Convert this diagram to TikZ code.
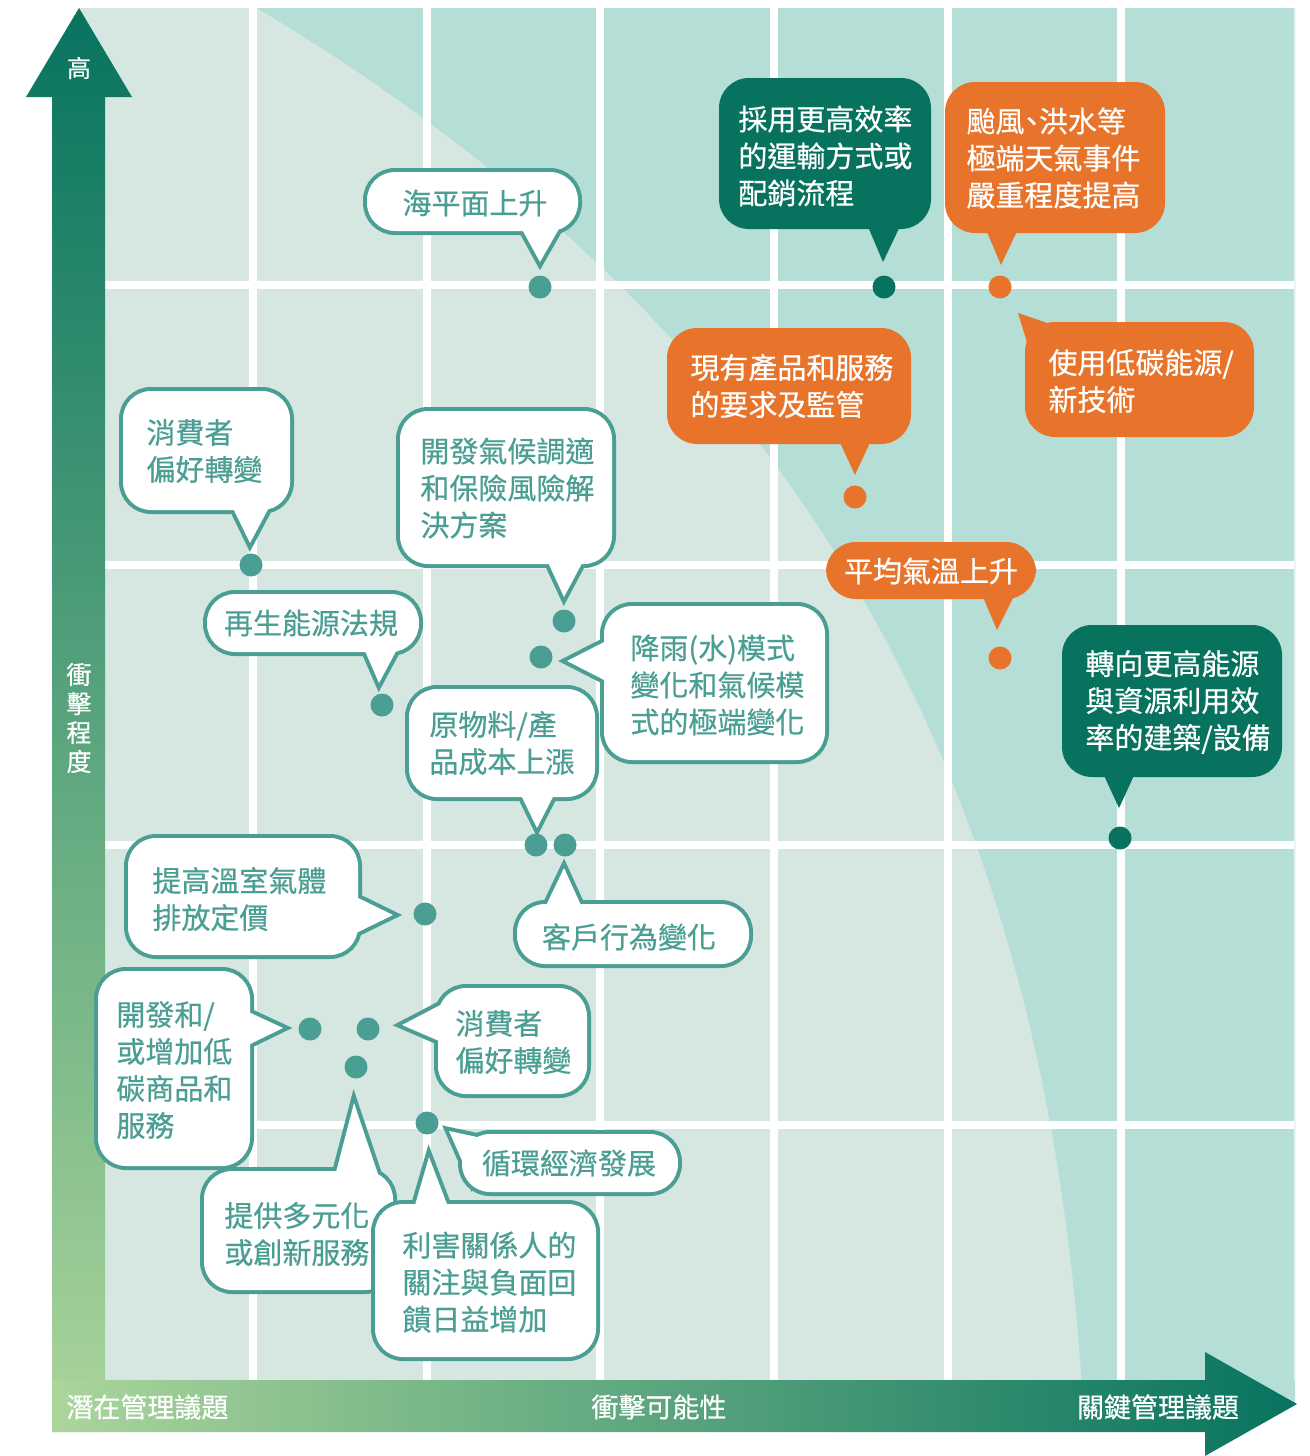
\documentclass[tikz,border=0pt]{standalone}
\usepackage{fontspec}
\newfontfamily\cjk[FakeBold=0.5]{Noto Sans CJK TC}
\usepackage{tikz}
\usetikzlibrary{positioning}
\definecolor{dkgreen}{HTML}{07735F}
\definecolor{ltgreen}{HTML}{ABD59B}
\definecolor{tealc}{HTML}{4A9E93}
\definecolor{orangec}{HTML}{E8742B}
\definecolor{gridbg}{HTML}{D6E7E1}
\definecolor{gridhi}{HTML}{B4DED6}
\tikzset{
  wbub/.style={fill=white, rounded corners=14pt, preaction={draw=tealc, line width=4pt}},
  gbub/.style={fill=dkgreen, rounded corners=15pt},
  obub/.style={fill=orangec, rounded corners=15pt},
  wtxt/.style={text=tealc, font=\cjk\fontsize{14.5pt}{18.5pt}\selectfont, align=left, inner sep=0pt},
  ctxt/.style={text=white, font=\cjk\fontsize{14.5pt}{18.5pt}\selectfont, align=left, inner sep=0pt},
  axtxt/.style={text=white, font=\cjk\fontsize{13.5pt}{14.5pt}\selectfont, inner sep=0pt},
  tdot/.style={circle, fill=tealc, inner sep=0pt, minimum size=11.5pt},
  gdot/.style={tdot, fill=dkgreen},
  odot/.style={tdot, fill=orangec}
}
\begin{document}
\begin{tikzpicture}[x=0.5pt, y=-0.5pt]
    \useasboundingbox (0,0) rectangle (1310,1456);
    \fill[gridbg] (79,8) rectangle (1295,1405);
    \fill[gridhi] (257,8) .. controls (757,308) and (1045,730) .. (1083,1405) -- (1295,1405) -- (1295,8) -- cycle;
    \draw[white, line width=4pt] (253,8) -- (253,1380);
    \draw[white, line width=4pt] (427,8) -- (427,1380);
    \draw[white, line width=4pt] (600,8) -- (600,1380);
    \draw[white, line width=4pt] (774,8) -- (774,1380);
    \draw[white, line width=4pt] (948,8) -- (948,1380);
    \draw[white, line width=4pt] (1121,8) -- (1121,1380);
    \draw[white, line width=4pt] (105,285) -- (1295,285);
    \draw[white, line width=4pt] (105,565) -- (1295,565);
    \draw[white, line width=4pt] (105,845) -- (1295,845);
    \draw[white, line width=4pt] (105,1125) -- (1295,1125);
    \draw[white!70!gridhi, line width=1pt] (1295,8) -- (1295,1380);

    \shade[top color=dkgreen, bottom color=ltgreen] (52,1432) -- (52,97) -- (26,97) -- (79,8) -- (132,97) -- (105,97) -- (105,1432) -- cycle;
    \shade[left color=ltgreen, right color=dkgreen] (52,1380) -- (1205,1380) -- (1205,1352) -- (1297,1404) -- (1205,1456) -- (1205,1432) -- (52,1432) -- cycle;
    \node[axtxt, font=\cjk\fontsize{12pt}{13pt}\selectfont] (high) at (79,68) {高};
    \node[axtxt, align=center, font=\cjk\fontsize{12.5pt}{14.5pt}\selectfont] (impact) at (79,718) {衝\\擊\\程\\度};
    \node[axtxt, anchor=west] (potential) at (66,1407) {潛在管理議題};
    \node[axtxt] (likely) at (659,1407) {衝擊可能性};
    \node[axtxt] (key) at (1158,1407) {關鍵管理議題};

    \path[wbub] (367,172) -- (578,172) -- (578,231) -- (367,231) -- cycle [sharp corners] (564,220) -- (540,262) -- (518,222) -- cycle;
    \node[wtxt] (sea) at (475,203) {海平面上升};

    \path[wbub] (123,391) -- (290,391) -- (290,510) -- (123,510) -- cycle [sharp corners] (273,500) -- (250,543) -- (230,502) -- cycle;
    \node[wtxt, anchor=west] (pref1) at (146,451) {消費者\\偏好轉變};

    \path[wbub] (400,411) -- (612,411) -- (612,564) -- (400,564) -- cycle [sharp corners] (588,552) -- (564,597) -- (545,556) -- cycle;
    \node[wtxt, anchor=west] (adapt) at (420,488) {開發氣候調適\\和保險風險解\\決方案};

    \path[wbub] (207,594) -- (419,594) -- (419,652) -- (207,652) -- cycle [sharp corners] (401,642) -- (379,683) -- (362,644) -- cycle;
    \node[wtxt] (renew) at (311,623) {再生能源法規};

    \path[wbub] (604,606) -- (825,606) -- (825,760) -- (604,760) -- cycle [sharp corners] (612,684) -- (567,661) -- (612,638) -- cycle;
    \node[wtxt, anchor=west] (rain) at (630,685) {降雨(水)模式\\變化和氣候模\\式的極端變化};

    \path[wbub] (409,689) -- (595,689) -- (595,797) -- (409,797) -- cycle [sharp corners] (557,789) -- (537,828) -- (518,789) -- cycle;
    \node[wtxt, anchor=west] (cost) at (429,743) {原物料/產\\品成本上漲};

    \path[wbub] (517,904) -- (749,904) -- (749,964) -- (517,964) -- cycle [sharp corners] (543,912) -- (564,868) -- (584,912) -- cycle;
    \node[wtxt] (behav) at (629,937) {客戶行為變化};

    \path[wbub] (128,838) -- (358,838) -- (358,955) -- (128,955) -- cycle [sharp corners] (350,894) -- (393,915) -- (350,936) -- cycle;
    \node[wtxt, anchor=west] (carbon) at (152,899) {提高溫室氣體\\排放定價};

    \path[wbub] (98,971) -- (250,971) -- (250,1166) -- (98,1166) -- cycle [sharp corners] (242,1009) -- (283,1028) -- (242,1048) -- cycle;
    \node[wtxt, anchor=west] (lowc) at (116,1070) {開發和/\\或增加低\\碳商品和\\服務};

    \path[wbub] (438,988) -- (587,988) -- (587,1094) -- (438,1094) -- cycle [sharp corners] (446,1044) -- (402,1025) -- (446,1002) -- cycle;
    \node[wtxt, anchor=west] (pref2) at (455,1042) {消費者\\偏好轉變};

    \path[wbub] (462,1134) -- (678,1134) -- (678,1192) -- (462,1192) -- cycle [sharp corners] (472,1183) -- (449,1131) -- (496,1141) -- cycle;
    \node[wtxt] (circ) at (569,1163) {循環經濟發展};

    \path[wbub] (204,1171) -- (393,1171) -- (393,1290) -- (204,1290) -- cycle [sharp corners] (334,1180) -- (354,1103) -- (380,1180) -- cycle;
    \node[wtxt, anchor=west] (serv) at (224,1234) {提供多元化\\或創新服務};

    \path[wbub] (375,1204) -- (596,1204) -- (596,1357) -- (375,1357) -- cycle [sharp corners] (413,1212) -- (429,1157) -- (450,1212) -- cycle;
    \node[wtxt, anchor=west] (stake) at (402,1282) {利害關係人的\\關注與負面回\\饋日益增加};

    \path[gbub] (719,78) -- (931,78) -- (931,229) -- (719,229) -- cycle [sharp corners] (903,220) -- (883,262) -- (866,222) -- cycle;
    \node[ctxt, anchor=west] (trans) at (738,156) {採用更高效率\\的運輸方式或\\配銷流程};

    \path[obub] (945,82) -- (1165,82) -- (1165,233) -- (945,233) -- cycle [sharp corners] (1020,225) -- (1001,265) -- (984,225) -- cycle;
    \node[ctxt, anchor=west] (storm) at (966,158) {颱風\hspace{-0.25em}、\hspace{-0.25em}洪水等\\極端天氣事件\\嚴重程度提高};

    \path[obub] (1025,322) -- (1254,322) -- (1254,437) -- (1025,437) -- cycle [sharp corners] (1030,352) -- (1018,313) -- (1056,326) -- cycle;
    \node[ctxt, anchor=west] (tech) at (1048,381) {使用低碳能源/\\新技術};

    \path[obub] (667,328) -- (911,328) -- (911,444) -- (667,444) -- cycle [sharp corners] (873,436) -- (855,475) -- (837,436) -- cycle;
    \node[ctxt, anchor=west] (reg) at (690,386) {現有產品和服務\\的要求及監管};

    \path[obub] (826,542) -- (1036,542) -- (1036,599) -- (826,599) -- cycle [sharp corners] (1017,590) -- (997,630) -- (980,590) -- cycle;
    \node[ctxt] (temp) at (931,571) {平均氣溫上升};

    \path[gbub] (1062,625) -- (1282,625) -- (1282,777) -- (1062,777) -- cycle [sharp corners] (1137,769) -- (1119,808) -- (1101,769) -- cycle;
    \node[ctxt, anchor=west] (build) at (1085,702) {轉向更高能源\\與資源利用效\\率的建築/設備};

    \node[tdot] (d1) at (540,287) {};
    \node[tdot] (d2) at (251,565) {};
    \node[tdot] (d3) at (564,621) {};
    \node[tdot] (d4) at (382,705) {};
    \node[tdot] (d5) at (541,657) {};
    \node[tdot] (d6) at (536,845) {};
    \node[tdot] (d7) at (565,845) {};
    \node[tdot] (d8) at (425,914) {};
    \node[tdot] (d9) at (310,1029) {};
    \node[tdot] (d10) at (368,1029) {};
    \node[tdot] (d11) at (427,1123) {};
    \node[tdot] (d12) at (356,1067) {};
    \node[gdot] (d14) at (884,287) {};
    \node[odot] (d15) at (1000,287) {};
    \node[odot] (d17) at (855,497) {};
    \node[odot] (d18) at (1000,658) {};
    \node[gdot] (d19) at (1120,838) {};
\end{tikzpicture}
\end{document}
